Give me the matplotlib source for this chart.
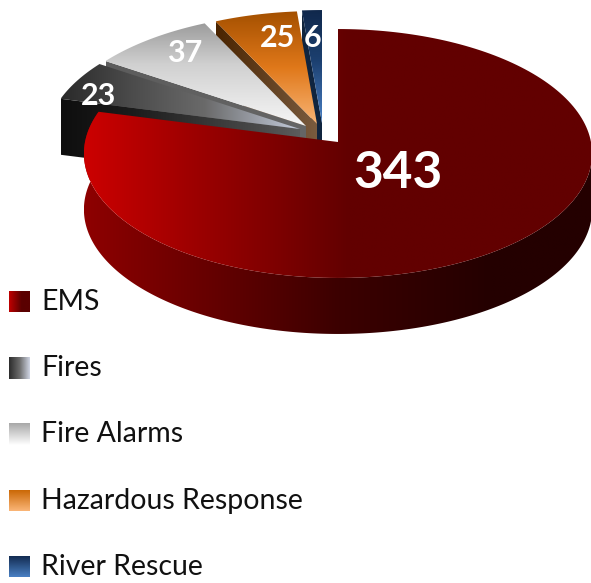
import numpy as np
import matplotlib
matplotlib.use('Agg')
import matplotlib.pyplot as plt
from matplotlib.colors import LinearSegmentedColormap
from matplotlib.patches import Polygon

categories = ['EMS', 'Fires', 'Fire Alarms', 'Hazardous Response', 'River Rescue']
values = [343, 23, 37, 25, 6]
value_labels = ['343', '23', '37', '25', '6']

# pie geometry, in pixels of the picture
cx, cy = 338, 142
bx, ay, k = 253, 123.4, 0.0924
depth = 56
shifts = [(0, 0), (-38, -13), (-32, -16), (-21, -18), (-16, -19)]
label_pos = [(398, 174), (99, 96), (185, 53), (278, 38), (313, 38)]

# (colour stops, 'x' or 'y' direction)
top_fill = [
    (['#cc0000', '#a00000', '#620000', '#620000'], 'x', [0, 0.2, 0.52, 1]),
    (['#2a2a2a', '#4c4c4c', '#6a6a6a', '#c4ccdc'], 'x', [0, 0.3, 0.6, 1]),
    (['#9c9c9c', '#d0d0d0', '#f6f6f6'], 'y', [0, 0.4, 1]),
    (['#a45000', '#e0781a', '#f8b474'], 'y', [0, 0.5, 1]),
    (['#10284c', '#1c4070', '#4a80c4'], 'y', [0, 0.45, 1]),
]
face_fill = [
    (['#8e0000', '#3c0000', '#240000', '#240000'], 'x', [0, 0.5, 0.8, 1]),
    (['#0e0e0e', '#1c1c1c', '#4c4c4c', '#5c5c5c'], 'x', [0, 0.3, 0.85, 1]),
    (['#5c5c5c', '#666666'], 'x', [0, 1]),
    (['#4a2400', '#7a5c40'], 'x', [0, 1]),
    (['#10253f', '#10253f'], 'x', [0, 1]),
]
swatch_fill = [
    (['#c00000', '#5a0000', '#5a0000'], 'x', [0, 0.6, 1]),
    (['#2c2c2c', '#6a6a6a', '#d0d6e4'], 'x', [0, 0.5, 1]),
    (['#a8a8a8', '#ffffff'], 'y', [0, 1]),
    (['#c86400', '#fbb678'], 'y', [0, 1]),
    (['#10284c', '#4a80c4'], 'y', [0, 1]),
]


def proj(theta, shift=(0, 0)):
    # disc angle (clockwise from the back) to picture pixels, with perspective
    u = np.sin(np.radians(theta))
    v = np.cos(np.radians(theta))
    d = 1 + k*v
    return cx + bx*u/d + shift[0], cy - ay*v/d + shift[1]


def grad_poly(ax, pts, fill, z):
    colors, direction, stops = fill
    cmap = LinearSegmentedColormap.from_list('g', list(zip(stops, colors)))
    pts = np.array(pts)
    x0, x1 = pts[:, 0].min(), pts[:, 0].max()
    y0, y1 = pts[:, 1].min(), pts[:, 1].max()
    g = np.linspace(0, 1, 256)
    img = g.reshape(1, -1) if direction == 'x' else g.reshape(-1, 1)
    im = ax.imshow(img, cmap=cmap, vmin=0, vmax=1, extent=(x0, x1, y1, y0),
                   aspect='auto', zorder=z, interpolation='bilinear')
    patch = Polygon(pts, closed=True, transform=ax.transData, fc='none', ec='none')
    ax.add_patch(patch)
    im.set_clip_path(patch)


fig = plt.figure(figsize=(5.91, 5.83), dpi=100)
ax = fig.add_axes([0, 0, 1, 1])

edges = np.cumsum([0] + values) / sum(values) * 360

# back to front: River Rescue first, EMS last
z = 2
for i in [4, 3, 2, 1, 0]:
    s = shifts[i]
    th = np.linspace(edges[i], edges[i+1], 200)
    xa, ya = proj(th, s)
    apex = (cx + s[0], cy + s[1])
    if i == 0:
        # outer wall that faces the viewer
        tw = np.linspace(95, edges[1], 300)
        xw, yw = proj(tw, s)
        wall = list(zip(xw, yw)) + list(zip(xw[::-1], yw[::-1] + depth))
        grad_poly(ax, wall, face_fill[0], z)
    else:
        x1, y1 = proj(edges[i], s)
        face = [(x1, y1), apex, (apex[0], apex[1] + depth), (x1, y1 + depth)]
        grad_poly(ax, face, face_fill[i], z)
    z += 1
    grad_poly(ax, [apex] + list(zip(xa, ya)), top_fill[i], z)
    z += 1

for lab, (x, y) in zip(value_labels, label_pos):
    size = 37 if lab == '343' else 22
    ax.text(x, y, lab, color='white', fontsize=size, fontweight='bold',
            family='Lato', ha='center', va='center', zorder=50)

# legend
for i, cat in enumerate(categories):
    y0 = 291 + 66.2*i
    grad_poly(ax, [(9, y0), (30, y0), (30, y0 + 21.5), (9, y0 + 21.5)], swatch_fill[i], 50)
    ax.text(41, y0 + 11, cat, color='#111111', fontsize=20.5, family='Lato',
            ha='left', va='center', zorder=50)

ax.set_xlim(0, 591)
ax.set_ylim(583, 0)
ax.axis('off')
fig.savefig('out.png', dpi=100, facecolor='white')
